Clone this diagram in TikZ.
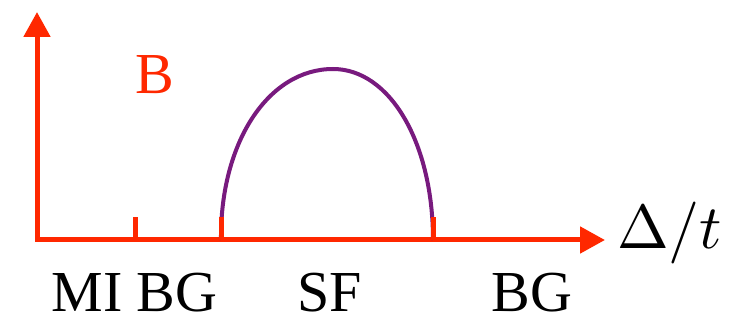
\documentclass[tikz,border=0pt]{standalone}
\usepackage{graphicx}
\usepackage{fontspec}
\setmainfont{Liberation Serif}
\usetikzlibrary{arrows.meta}
\definecolor{axisred}{RGB}{255,40,0}
\definecolor{arcpurple}{RGB}{120,26,126}

\begin{document}
\begin{tikzpicture}[x=1pt, y=1pt,
  axis/.style={axisred, line width=5pt},
  tickmark/.style={axisred, line width=5pt},
  lbl/.style={inner sep=0pt, anchor=base, text depth=0pt, font=\fontsize{58}{60}\selectfont}]

  \useasboundingbox (0,0) rectangle (746,321);

  % ---- the axes ----
  \coordinate (corner) at (37,81);
  \coordinate (ytip) at (37,309);
  \coordinate (xtip) at (605,81);
  \draw[axis, {Triangle[length=25pt,width=26pt]}-{Triangle[length=25pt,width=26pt]}]
    (ytip) -- (corner) -- (xtip);

  % ---- the SF dome, drawn first so the ticks sit on top ----
  \coordinate (sfleft) at (221,81);
  \coordinate (sfright) at (433,81);
  \coordinate (sftop) at (333,252);
  \draw[arcpurple, line width=4pt]
    (sfleft) .. controls (220,178) and (268,252) .. (sftop)
             .. controls (390,252) and (433,178) .. (sfright);

  % ---- ticks ----
  \coordinate (mitick) at (135,81);
  \draw[tickmark] (mitick) -- ++(0,23);
  \draw[tickmark] (sfleft) -- ++(0,23);
  \draw[tickmark] (sfright) -- ++(0,23);

  % ---- labels ----
  \node[lbl, axisred] (blabel) at (155,227) {B};
  \node[lbl] (mi) at (87,10) {MI};
  \node[lbl] (bgleft) at (177,10) {BG};
  \node[lbl] (sf) at (330,10) {SF};
  \node[lbl] (bgright) at (532,10) {BG};
  \node[inner sep=0pt, anchor=base west] (xlabel) at (617,73) {\scalebox{6.2}{$\Delta/t$}};

\end{tikzpicture}
\end{document}
